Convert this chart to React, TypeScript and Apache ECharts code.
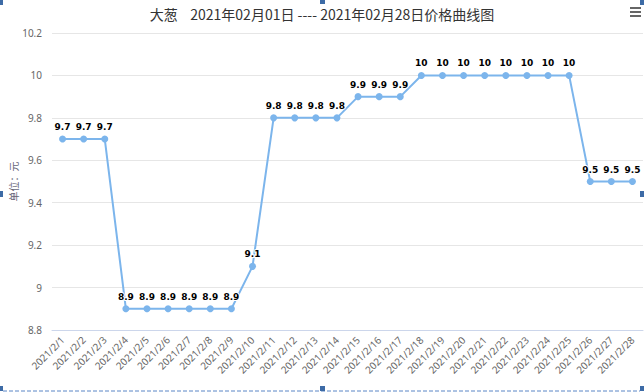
import React, { useEffect, useRef } from "react";
import * as echarts from "echarts";

const titleText = "大葱    2021年02月01日 ---- 2021年02月28日价格曲线图";
const yAxisName = "单位：元";
const categories = [
  "2021/2/1", "2021/2/2", "2021/2/3", "2021/2/4", "2021/2/5", "2021/2/6", "2021/2/7",
  "2021/2/8", "2021/2/9", "2021/2/10", "2021/2/11", "2021/2/12", "2021/2/13", "2021/2/14",
  "2021/2/15", "2021/2/16", "2021/2/17", "2021/2/18", "2021/2/19", "2021/2/20", "2021/2/21",
  "2021/2/22", "2021/2/23", "2021/2/24", "2021/2/25", "2021/2/26", "2021/2/27", "2021/2/28",
];
const prices = [
  9.7, 9.7, 9.7, 8.9, 8.9, 8.9, 8.9, 8.9, 8.9, 9.1, 9.8, 9.8, 9.8, 9.8,
  9.9, 9.9, 9.9, 10, 10, 10, 10, 10, 10, 10, 10, 9.5, 9.5, 9.5,
];
const yMin = 8.8;
const yMax = 10.2;
const yStep = 0.2;

const handleColor = "#3d6ba6";

export default function App() {
  const ref = useRef<HTMLDivElement>(null);
  useEffect(() => {
    if (!ref.current) return;
    const chart = echarts.init(ref.current, undefined, { renderer: "svg" });
    const handles = [
      [0, 0, 3, 5], [320, 0, 5, 4], [640, 0, 4, 5],
      [0, 191, 3, 6], [640, 191, 4, 6],
      [0, 386, 3, 5], [320, 386, 5, 5], [640, 386, 4, 5],
    ].map(([x, y, w, h]) => ({
      type: "rect",
      shape: { x, y, width: w, height: h },
      style: { fill: handleColor },
      z: 100,
    }));
    chart.setOption({
      animation: false,
      backgroundColor: "#fff",
      title: {
        text: titleText,
        left: "center",
        top: 2,
        textStyle: {
          fontSize: 14,
          fontWeight: "normal",
          color: "#333",
          fontFamily: "'Noto Sans CJK SC', sans-serif",
        },
      },
      grid: {
        left: 52,
        right: 1,
        top: 33,
        bottom: 62,
        containLabel: false,
        outerBoundsMode: "none",
      },
      xAxis: {
        type: "category",
        data: categories,
        boundaryGap: true,
        axisLine: { lineStyle: { color: "#ccd6eb" } },
        axisTick: { show: false },
        axisLabel: {
          rotate: 45,
          interval: 0,
          fontSize: 10,
          color: "#666",
          margin: 8,
          fontFamily: "'Noto Sans', sans-serif",
        },
      },
      yAxis: {
        type: "value",
        min: yMin,
        max: yMax,
        interval: yStep,
        name: yAxisName,
        nameLocation: "middle",
        nameGap: 34,
        nameMoveOverlap: false,
        nameTextStyle: {
          color: "#667",
          fontSize: 10,
          fontFamily: "'Noto Sans CJK SC', sans-serif",
        },
        axisLine: { show: false },
        axisTick: { show: false },
        splitLine: { lineStyle: { color: "#e6e6e6" } },
        axisLabel: {
          fontSize: 10,
          color: "#666",
          margin: 10,
          fontFamily: "'Noto Sans', sans-serif",
          formatter: (v: number) => String(parseFloat(v.toFixed(1))),
        },
      },
      series: [
        {
          type: "line",
          data: prices,
          symbol: "circle",
          symbolSize: 7,
          itemStyle: { color: "#7cb5ec" },
          lineStyle: { color: "#7cb5ec", width: 2 },
          label: {
            show: true,
            position: "top",
            distance: 4,
            fontSize: 9,
            fontWeight: "bold",
            color: "#000",
            textBorderColor: "#fff",
            textBorderWidth: 2,
            fontFamily: "'DejaVu Sans', sans-serif",
          },
        },
      ],
      graphic: [
        ...handles,
        { type: "rect", shape: { x: 630, y: 7, width: 11, height: 2 }, style: { fill: "#666" } },
        { type: "rect", shape: { x: 630, y: 11, width: 11, height: 2 }, style: { fill: "#666" } },
        { type: "rect", shape: { x: 630, y: 15, width: 11, height: 2 }, style: { fill: "#666" } },
        {
          type: "line",
          shape: { x1: 3, y1: 391, x2: 640, y2: 391 },
          style: { stroke: "#5b86c6", lineWidth: 1, lineDash: [4, 2] },
        },
      ],
    });
    return () => chart.dispose();
  }, []);
  return (
    <div
      ref={ref}
      style={{ position: "fixed", left: 0, top: 0, width: 644, height: 392 }}
    />
  );
}
